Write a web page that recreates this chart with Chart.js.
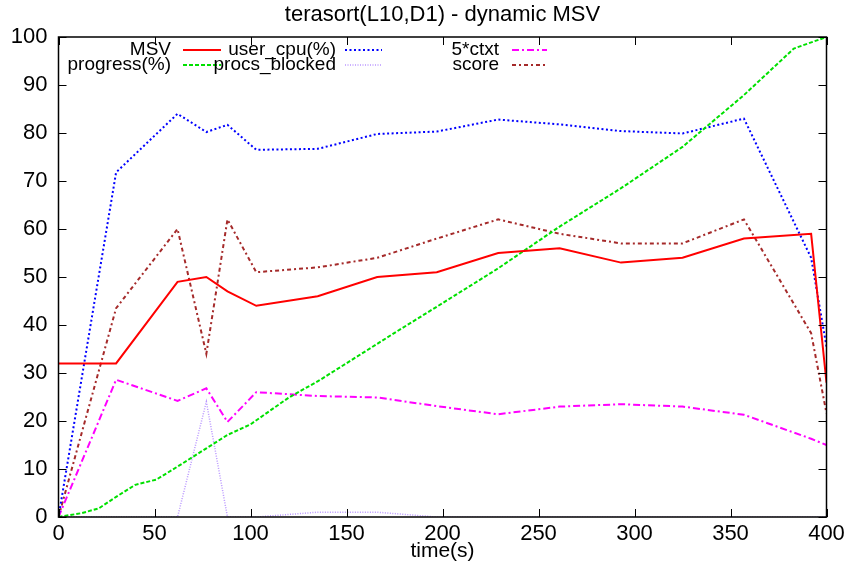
<!DOCTYPE html>
<html>
<head>
<meta charset="utf-8">
<script src="https://cdn.jsdelivr.net/npm/chart.js@4.4.1/dist/chart.umd.min.js"></script>
<style>
  html, body { margin: 0; padding: 0; background: #fff; }
  #wrap { width: 850px; height: 565px; }
</style>
</head>
<body>
<div id="wrap"><canvas id="myChart" width="850" height="565"></canvas></div>
<script>
// sample times (s) shared by most series
var timeS = [0, 30, 62, 77, 88, 103, 135, 166, 197, 229, 261, 293, 325, 357, 392, 400];
var msv = [32, 32, 49, 50, 47, 44, 46, 50, 51, 55, 56, 53, 54, 58, 59, 28];
var userCpu = [0, 71.8, 84, 80.2, 81.7, 76.5, 76.7, 79.8, 80.3, 82.8, 81.8, 80.4, 79.9, 83, 54, 35.5];
var ctxt5 = [0, 28.6, 24.2, 26.8, 19.8, 26, 25.2, 24.9, 23.1, 21.4, 23, 23.5, 23, 21.3, 16.3, 15];
var score = [0, 43.5, 60, 34, 62, 51, 52, 54, 58, 62, 59, 57, 57, 62, 38.3, 21.6];
var procsBlocked = [0, 0, 0, 24, 0, 0, 1, 1, 0, 0, 0, 0, 0, 0, 0, 0];

// progress is sampled on its own times
var progressTime = [0, 12, 21, 30, 40, 51, 62, 77, 88, 100, 120, 136, 176, 197, 229, 261, 293, 325, 357, 383, 400];
var progress = [0, 0.8, 1.8, 4.2, 6.7, 7.8, 10.5, 14.3, 17.1, 19.3, 24.9, 28.5, 38.6, 43.8, 51.8, 60.5, 68.5, 77.1, 87.9, 97.6, 100];

var xTicks = [0, 50, 100, 150, 200, 250, 300, 350, 400];
var yTicks = [0, 10, 20, 30, 40, 50, 60, 70, 80, 90, 100];

var FONT = "'Liberation Sans', Arial, sans-serif";

function pts(xs, ys) {
    return ys.map(function(v, i) { return { x: xs[i], y: v }; });
}

// legend entries: [label, color, dash, width, column, row]
var legendItems = [
    ['MSV', '#ff0000', [], 2, 0, 0],
    ['progress(%)', '#00e000', [4, 2], 2, 0, 1],
    ['user_cpu(%)', '#0000ff', [2, 2.5], 2, 1, 0],
    ['procs_blocked', 'rgb(185,150,255)', [1, 1.5], 1.5, 1, 1],
    ['5*ctxt', '#ff00ff', [7, 3, 2, 3], 2, 2, 0],
    ['score', '#a52a2a', [4, 3, 2, 3], 2, 2, 1]
];

var gnuplotFrame = {
    id: 'gnuplotFrame',
    afterDatasetsDraw: function(chart) {
        var ctx = chart.ctx, a = chart.chartArea;
        var xs = chart.scales.x, ys = chart.scales.y;
        ctx.save();
        ctx.strokeStyle = '#000';
        ctx.lineWidth = 1.5;
        ctx.setLineDash([]);
        ctx.strokeRect(a.left, a.top, a.right - a.left, a.bottom - a.top);
        ctx.lineWidth = 1;
        ctx.beginPath();
        xTicks.forEach(function(t) {
            var px = Math.round(xs.getPixelForValue(t)) + 0.5;
            ctx.moveTo(px, a.bottom); ctx.lineTo(px, a.bottom - 8);
            ctx.moveTo(px, a.top); ctx.lineTo(px, a.top + 8);
        });
        yTicks.forEach(function(t) {
            var py = Math.round(ys.getPixelForValue(t)) + 0.5;
            ctx.moveTo(a.left, py); ctx.lineTo(a.left + 8, py);
            ctx.moveTo(a.right, py); ctx.lineTo(a.right - 8, py);
        });
        ctx.stroke();

        // title and x label
        ctx.fillStyle = '#000';
        ctx.textAlign = 'center';
        ctx.textBaseline = 'middle';
        var cx = (a.left + a.right) / 2;
        ctx.font = '22px ' + FONT;
        ctx.fillText('terasort(L10,D1) - dynamic MSV', cx, 15);
        ctx.font = '21px ' + FONT;
        ctx.fillText('time(s)', cx, 551);

        // key
        var colText = [171, 336, 499];
        var colLine = [[183, 221], [345, 382], [512, 547]];
        var rowY = [50, 65];
        ctx.font = '19px ' + FONT;
        ctx.textAlign = 'right';
        legendItems.forEach(function(it) {
            var y = rowY[it[5]];
            ctx.fillStyle = '#000';
            ctx.fillText(it[0], colText[it[4]], y);
            ctx.strokeStyle = it[1];
            ctx.lineWidth = it[3];
            ctx.setLineDash(it[2]);
            ctx.beginPath();
            ctx.moveTo(colLine[it[4]][0], y);
            ctx.lineTo(colLine[it[4]][1], y);
            ctx.stroke();
        });
        ctx.restore();
    }
};

var ctx = document.getElementById('myChart').getContext('2d');
var chart = new Chart(ctx, {
    type: 'line',
    data: {
        datasets: [
            { label: 'MSV', data: pts(timeS, msv), borderColor: '#ff0000', borderWidth: 2 },
            { label: 'progress(%)', data: pts(progressTime, progress), borderColor: '#00e000', borderWidth: 2, borderDash: [4, 2] },
            { label: 'user_cpu(%)', data: pts(timeS, userCpu), borderColor: '#0000ff', borderWidth: 2, borderDash: [2, 2.5] },
            { label: 'procs_blocked', data: pts(timeS, procsBlocked), borderColor: 'rgb(185,150,255)', borderWidth: 1.5, borderDash: [1, 1.5] },
            { label: '5*ctxt', data: pts(timeS, ctxt5), borderColor: '#ff00ff', borderWidth: 2, borderDash: [7, 3, 2, 3] },
            { label: 'score', data: pts(timeS, score), borderColor: '#a52a2a', borderWidth: 2, borderDash: [4, 3, 2, 3] }
        ]
    },
    options: {
        responsive: false,
        animation: false,
        layout: { padding: { top: 37, right: 23.5, left: 0, bottom: 0 } },
        elements: {
            point: { radius: 0 },
            line: { tension: 0, fill: false }
        },
        scales: {
            x: {
                type: 'linear',
                min: 0, max: 400,
                afterFit: function(s) { s.height = 48; },
                afterBuildTicks: function(s) { s.ticks = xTicks.map(function(v) { return { value: v }; }); },
                grid: { display: false, drawTicks: false },
                border: { display: false },
                ticks: { color: '#000', padding: 4, maxRotation: 0, font: { family: FONT, size: 22 } }
            },
            y: {
                min: 0, max: 100,
                afterFit: function(s) { s.width = 58.5; },
                afterBuildTicks: function(s) { s.ticks = yTicks.map(function(v) { return { value: v }; }); },
                grid: { display: false, drawTicks: false },
                border: { display: false },
                ticks: { color: '#000', padding: 11, font: { family: FONT, size: 22 } }
            }
        },
        plugins: {
            legend: { display: false },
            tooltip: { enabled: false }
        }
    },
    plugins: [gnuplotFrame]
});
</script>
</body>
</html>
